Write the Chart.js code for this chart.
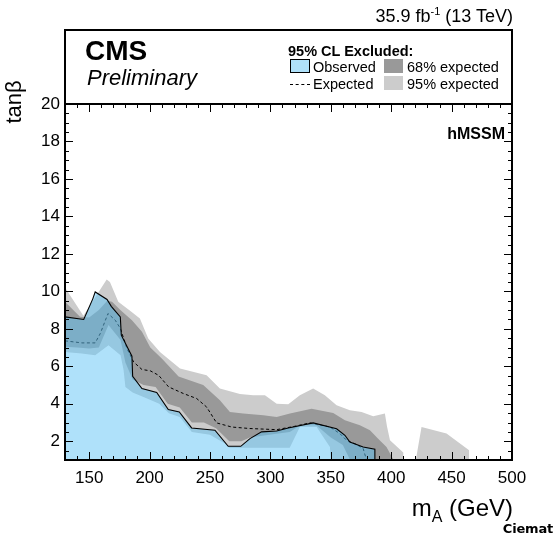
<!DOCTYPE html>
<html><head><meta charset="utf-8">
<script src="https://cdn.jsdelivr.net/npm/chart.js@4.4.1/dist/chart.umd.min.js"></script>
<style>
html,body{margin:0;padding:0;background:#fff;}
#wrap{position:relative;width:556px;height:537px;font-family:"Liberation Sans",Arial,Helvetica,sans-serif;color:#000;overflow:hidden;}
canvas{position:absolute;left:0;top:0;}
.t{position:absolute;white-space:nowrap;line-height:1;}
.box{position:absolute;box-sizing:border-box;}
</style></head>
<body><div id="wrap">
<canvas id="c" width="556" height="537"></canvas>
<div class="box" style="left:64px;top:29px;width:449px;height:76px;border:2px solid #000;"></div>
<div class="t" style="right:43px;top:7px;font-size:18px;">35.9 fb<sup style="font-size:11px;vertical-align:7px;line-height:0">-1</sup> (13 TeV)</div>
<div class="t" style="left:85px;top:37px;font-size:28px;font-weight:bold;">CMS</div>
<div class="t" style="left:87px;top:67px;font-size:22px;font-style:italic;">Preliminary</div>
<div class="t" style="left:288px;top:44px;font-size:14.5px;font-weight:bold;">95% CL Excluded:</div>
<div class="box" style="left:290px;top:59px;width:20px;height:14px;background:rgb(175,225,250);border:1px solid #000;"></div>
<div class="t" style="left:313px;top:60px;font-size:14.5px;">Observed</div>
<div class="box" style="left:384px;top:59px;width:19px;height:14px;background:#999999;"></div>
<div class="t" style="left:407px;top:60px;font-size:14.5px;">68% expected</div>
<div class="box" style="left:290px;top:84px;width:20px;height:1px;border-top:1px dashed #000;"></div>
<div class="t" style="left:313px;top:77px;font-size:14.5px;">Expected</div>
<div class="box" style="left:384px;top:76px;width:19px;height:14px;background:#cccccc;"></div>
<div class="t" style="left:407px;top:77px;font-size:14.5px;">95% expected</div>
<div class="t" style="right:51px;top:126px;font-size:16px;font-weight:bold;">hMSSM</div>
<div class="t" style="left:-16px;top:91px;width:60px;height:22px;line-height:22px;text-align:center;font-size:22px;transform:rotate(-90deg);">tanβ</div>
<div class="t" style="right:43px;top:496px;font-size:24px;">m<sub style="font-size:16px;vertical-align:-6px;line-height:0">A</sub> (GeV)</div>
<div class="t" style="right:3px;top:522px;font-size:13px;font-weight:bold;font-family:'DejaVu Sans',sans-serif;letter-spacing:-0.2px;">Ciemat</div>
</div>
<script>
// ---- axis ticks ----
const xTickLabels = [150, 200, 250, 300, 350, 400, 450, 500];
const yTickLabels = [2, 4, 6, 8, 10, 12, 14, 16, 18, 20];
const xMinorTicks = [130,140,150,160,170,180,190,200,210,220,230,240,250,260,270,280,290,300,310,320,330,340,350,360,370,380,390,400,410,420,430,440,450,460,470,480,490,500];
const yMinorTicks = [1.5,2,2.5,3,3.5,4,4.5,5,5.5,6,6.5,7,7.5,8,8.5,9,9.5,10,10.5,11,11.5,12,12.5,13,13.5,14,14.5,15,15.5,16,16.5,17,17.5,18,18.5,19,19.5,20];

// ---- observed exclusion contour (m_A, tanb) ----
const obsX = [130, 130, 145.5, 153, 155, 164.8, 168.3, 175.8, 176.6, 185.4, 186, 193.7, 205.9, 215.5, 224.6, 234.8, 254.1, 265.1, 275.5, 283.1, 292.7, 305.2, 314.8, 335.4, 354.8, 361.7, 365.8, 376.8, 386.5, 386.5];
const obsY = [1, 8.64, 8.5, 9.6, 9.97, 9.57, 9.2, 8.64, 7.66, 6.54, 5.47, 4.81, 4.6, 3.69, 3.56, 2.71, 2.59, 1.73, 1.73, 2.14, 2.5, 2.55, 2.71, 2.98, 2.67, 2.32, 1.96, 1.69, 1.57, 1];

// ---- expected (median) contour ----
const expX = [130, 144, 155, 159.2, 165.6, 171.6, 175.8, 181.3, 186.8, 193.7, 200.6, 207.5, 215.8, 227.9, 239, 247.2, 255.5, 268, 283, 305.2, 320.3, 332.7, 349.3, 357.5, 363.1, 371.4, 376.8, 379.6];
const expY = [7.36, 7.25, 7.25, 7.75, 8.82, 8.46, 8.02, 6.95, 6.23, 5.83, 5.76, 5.52, 4.9, 4.55, 4.28, 3.83, 2.98, 2.76, 2.68, 2.62, 2.80, 2.98, 2.76, 2.41, 2.05, 1.82, 1.61, 1.0];

// ---- 68% expected band: upper and lower edges ----
const up68X = [130, 142.4, 150, 158, 165, 168.9, 175.8, 185.4, 193.7, 200.6, 210.3, 224, 244.4, 258.2, 266.5, 277.5, 294.1, 305.2, 316.2, 334.1, 352, 361.7, 374.1, 382.4, 389.2, 396.1, 402];
const up68Y = [9.44, 8.64, 8.6, 9.0, 9.5, 9.44, 9.0, 8.46, 7.84, 7.0, 6.4, 5.45, 5.0, 4.19, 3.56, 3.48, 3.39, 3.30, 3.48, 3.74, 3.51, 3.12, 2.85, 2.59, 2.14, 1.69, 1];
const low68X = [130, 140, 150, 158, 166, 176, 180, 186, 195, 205, 215, 225, 235, 245, 255, 266, 276, 283, 305, 316, 325, 338, 350, 360, 366];
const low68Y = [7.05, 7.0, 6.95, 7.0, 8.2, 7.4, 6.2, 5.3, 5.0, 4.9, 4.0, 3.8, 3.0, 3.0, 2.7, 2.0, 2.0, 2.2, 2.4, 2.5, 2.85, 2.85, 2.2, 1.8, 1];

// ---- 95% expected band: upper and lower edges, plus separate island ----
const up95X = [130, 145.2, 164.5, 167.2, 174.1, 185.2, 192, 198.9, 208.6, 225.2, 247.2, 258.2, 274.8, 285.8, 295.5, 305.2, 314.8, 324.4, 335.4, 345.1, 354.8, 365.8, 375.5, 385.1, 394.8, 396.5, 399, 410, 410];
const up95Y = [10.2, 8.7, 10.63, 10.5, 9.44, 8.9, 8.55, 7.48, 6.77, 5.88, 5.52, 4.81, 4.52, 4.45, 4.45, 4.0, 3.97, 4.45, 4.81, 4.45, 3.92, 3.65, 3.56, 3.33, 3.48, 2.8, 2.05, 1.4, 1];
const low95X = [130, 144, 155, 166, 176, 178.5, 180, 186, 195, 208, 216, 225, 235, 250, 262, 266, 316, 324.4, 338.3, 349.3, 350, 410];
const low95Y = [6.77, 6.68, 6.59, 7.13, 6.59, 5.8, 4.9, 4.6, 4.36, 4.0, 3.5, 3.3, 2.5, 2.35, 1.9, 1.65, 1.65, 2.76, 2.76, 1.69, 1, 1];
const isl95X = [420.4, 425.1, 445.8, 464.5, 464.5];
const isl95Y = [1, 2.76, 2.41, 1.52, 1];

const pts = (xs, ys) => xs.map((x, i) => ({x: x, y: ys[i]}));
const band = (ux, uy, lx, ly) => pts(ux, uy).concat(pts(lx, ly).reverse());

const FONT = '"Liberation Sans", Arial, Helvetica, sans-serif';

const frameTicks = {
  id: 'frameTicks',
  afterDraw(chart) {
    const {ctx, chartArea: a, scales: {x, y}} = chart;
    ctx.save();
    ctx.strokeStyle = '#000';
    ctx.lineWidth = 1;
    ctx.beginPath();
    for (const v of xMinorTicks) {
      const p = Math.round(x.getPixelForValue(v)) + 0.5;
      const len = xTickLabels.includes(v) ? 8 : 4;
      ctx.moveTo(p, a.bottom); ctx.lineTo(p, a.bottom - len);
      ctx.moveTo(p, a.top); ctx.lineTo(p, a.top + len);
    }
    for (const v of yMinorTicks) {
      const p = Math.round(y.getPixelForValue(v)) + 0.5;
      const len = yTickLabels.includes(v) ? 8 : 4;
      ctx.moveTo(a.left, p); ctx.lineTo(a.left + len, p);
      ctx.moveTo(a.right, p); ctx.lineTo(a.right - len, p);
    }
    ctx.stroke();
    ctx.lineWidth = 2;
    ctx.strokeRect(a.left, a.top, a.right - a.left, a.bottom - a.top);
    ctx.restore();
  }
};

const common = {showLine: true, pointRadius: 0, tension: 0};

new Chart(document.getElementById('c'), {
  type: 'scatter',
  data: {
    datasets: [
      Object.assign({label: 'Observed', data: pts(obsX, obsY), fill: 'shape',
        backgroundColor: 'rgba(95,195,245,0.5)', borderColor: '#000', borderWidth: 1.1, order: 0}, common),
      Object.assign({label: 'Expected', data: pts(expX, expY), fill: false,
        borderColor: '#000', borderWidth: 1, borderDash: [3, 2.5], order: 1}, common),
      Object.assign({label: '68% expected', data: band(up68X, up68Y, low68X, low68Y), fill: 'shape',
        backgroundColor: '#999999', borderColor: 'rgba(0,0,0,0)', borderWidth: 0, order: 2}, common),
      Object.assign({label: '95% expected', data: band(up95X, up95Y, low95X, low95Y), fill: 'shape',
        backgroundColor: '#cccccc', borderColor: 'rgba(0,0,0,0)', borderWidth: 0, order: 3}, common),
      Object.assign({label: '95% expected (high m_A)', data: pts(isl95X, isl95Y), fill: 'shape',
        backgroundColor: '#cccccc', borderColor: 'rgba(0,0,0,0)', borderWidth: 0, order: 3}, common)
    ]
  },
  options: {
    responsive: false,
    animation: false,
    events: [],
    layout: {padding: {left: 0, right: 44, top: 104, bottom: 0}},
    plugins: {legend: {display: false}, tooltip: {enabled: false}, title: {display: false}},
    scales: {
      x: {
        type: 'linear', min: 130, max: 500,
        grid: {display: false, drawTicks: false}, border: {display: false},
        ticks: {color: '#000', font: {family: FONT, size: 17}, padding: 8, autoSkip: false, maxRotation: 0},
        afterBuildTicks: s => { s.ticks = xTickLabels.map(v => ({value: v})); },
        afterFit: s => { s.height = 77; }
      },
      y: {
        type: 'linear', min: 1, max: 20,
        grid: {display: false, drawTicks: false}, border: {display: false},
        ticks: {color: '#000', font: {family: FONT, size: 17}, padding: 5, autoSkip: false},
        afterBuildTicks: s => { s.ticks = yTickLabels.map(v => ({value: v})); },
        afterFit: s => { s.width = 65; }
      }
    }
  },
  plugins: [frameTicks]
});
</script>
</body></html>
